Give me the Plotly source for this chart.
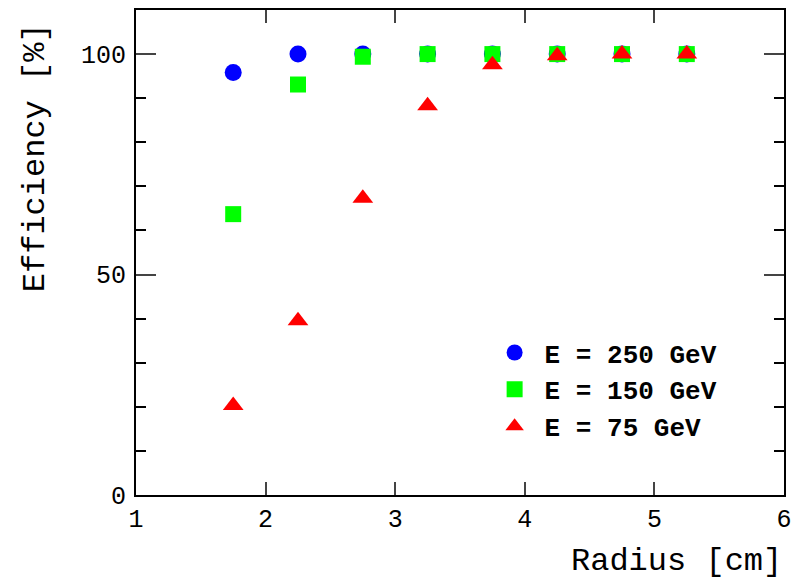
import plotly.graph_objects as go

radius = [1.75, 2.25, 2.75, 3.25, 3.75, 4.25, 4.75, 5.25]
eff_250 = [95.8, 100.0, 100.0, 100.0, 100.0, 100.0, 100.0, 100.0]
eff_150 = [63.7, 93.1, 99.4, 100.0, 100.0, 100.0, 100.0, 100.0]
eff_75 = [20.3, 39.5, 67.3, 88.3, 97.6, 99.6, 100.0, 100.0]

series_names = ["E = 250 GeV", "E = 150 GeV", "E = 75 GeV"]
x_ticks = [1, 2, 3, 4, 5, 6]
y_ticks = [0, 50, 100]

MONO = "Liberation Mono"

fig = go.Figure()
fig.add_trace(go.Scatter(x=radius, y=eff_250, mode="markers", name=series_names[0],
                         marker=dict(symbol="circle", size=17, color="#0000ff", line=dict(width=0))))
fig.add_trace(go.Scatter(x=radius, y=eff_150, mode="markers", name=series_names[1],
                         marker=dict(symbol="square", size=16, color="#00ff00", line=dict(width=0))))
fig.add_trace(go.Scatter(x=radius, y=eff_75, mode="markers", name=series_names[2],
                         marker=dict(symbol="triangle-up", size=18, color="#ff0000", line=dict(width=0))))

fig.update_layout(
    width=792, height=572,
    margin=dict(l=128, r=16, t=0, b=85),
    plot_bgcolor="white", paper_bgcolor="white",
    font=dict(family=MONO, color="black", size=25),
    showlegend=True,
    legend=dict(x=0.538, y=0.342, xanchor="left", yanchor="top",
                bgcolor="rgba(0,0,0,0)", font=dict(family=MONO, size=26, weight="bold"),
                itemwidth=50),
    xaxis=dict(range=[1, 6], tickvals=x_ticks, ticks="inside", ticklen=13, tickwidth=2,
               showline=True, linewidth=2, linecolor="black", mirror="ticks",
               showgrid=False, zeroline=False, tickfont=dict(family=MONO, size=25)),
    yaxis=dict(range=[0, 110], tickvals=y_ticks, ticks="inside", ticklen=20, tickwidth=2,
               showline=True, linewidth=2, linecolor="black", mirror="ticks",
               ticklabelstandoff=3,
               showgrid=False, zeroline=False, tickfont=dict(family=MONO, size=25),
               minor=dict(dtick=10, ticks="inside", ticklen=10, tickwidth=2, tickcolor="black", showgrid=False)),
    annotations=[
        dict(text="Efficiency [%]", xref="paper", yref="paper", x=-0.155, y=0.977,
             xanchor="center", yanchor="top", textangle=-90, showarrow=False,
             font=dict(family=MONO, size=32)),
        dict(text="Radius [cm]", xref="paper", yref="paper", x=1.0, y=-0.137,
             xanchor="right", yanchor="middle", showarrow=False,
             font=dict(family=MONO, size=32)),
    ],
)

fig.write_html("out.html")
